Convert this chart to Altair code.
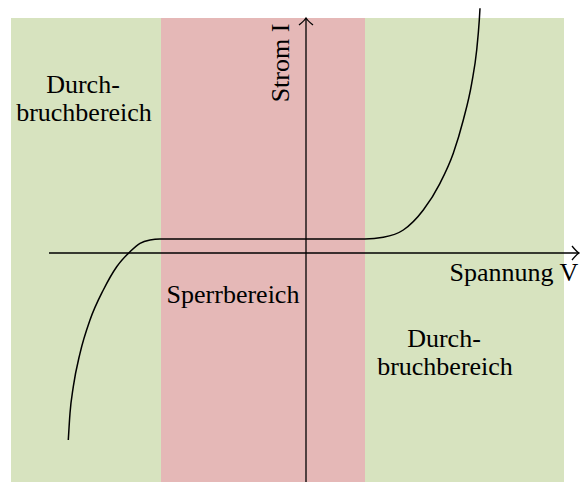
import altair as alt
import pandas as pd

# ---- data (units: voltage V and current I, arbitrary scale, origin at axes crossing) ----
# background regions
region_name = ["Durchbruchbereich links", "Sperrbereich", "Durchbruchbereich rechts"]
region_v0 = [-29.5, -14.5, 5.9]
region_v1 = [-14.5, 5.9, 25.8]
region_i0 = [-22.9, -22.9, -22.9]
region_i1 = [23.5, 23.5, 23.5]
region_color = ["#D7E3BF", "#E5B8B7", "#D7E3BF"]

# characteristic curve
curve_v = [-23.77, -23.6, -23.27, -22.6, -21.6, -20.27, -18.93, -17.6, -16.6, -15.6,
           -14.6, 5.9, 7.73, 9.73, 11.73, 13.4, 14.73, 15.73, 16.57, 17.07, 17.33, 17.4]
curve_i = [-18.7, -16.03, -13.37, -10.03, -6.7, -3.7, -1.37, 0.13, 0.97, 1.3,
           1.4, 1.4, 1.57, 2.3, 4.3, 6.97, 9.97, 13.3, 16.97, 20.3, 23.3, 24.47]

# axes (start / end)
axis_name = ["Spannung", "Strom"]
axis_v0 = [-25.7, 0.0]
axis_v1 = [27.3, 0.0]
axis_i0 = [0.0, -23.0]
axis_i1 = [0.0, 23.5]
axis_arrow_angle = [0, 270]

# labels
label_text = ["Durch-", "bruchbereich", "Sperrbereich", "Durch-", "bruchbereich", "Spannung V"]
label_v = [-22.3, -22.2, -7.3, 13.8, 13.9, 20.8]
label_i = [16.03, 13.23, -5.03, -9.43, -12.2, -2.8]
ylabel_text = ["Strom I"]
ylabel_v = [-1.7]
ylabel_i = [19.0]

# ---- tables ----
regions = pd.DataFrame({"name": region_name, "v0": region_v0, "v1": region_v1,
                        "i0": region_i0, "i1": region_i1, "color": region_color})
curve = pd.DataFrame({"v": curve_v, "i": curve_i})
axes = pd.DataFrame({"name": axis_name, "v0": axis_v0, "v1": axis_v1,
                     "i0": axis_i0, "i1": axis_i1, "angle": axis_arrow_angle})
labels = pd.DataFrame({"text": label_text, "v": label_v, "i": label_i})
ylabels = pd.DataFrame({"text": ylabel_text, "v": ylabel_v, "i": ylabel_i})

xs = alt.Scale(domain=[-29.8, 27.4], nice=False, zero=False)
ys = alt.Scale(domain=[-22.9, 24.5], nice=False, zero=False)

bg = alt.Chart(regions).mark_rect(strokeWidth=0).encode(
    x=alt.X("v0:Q", scale=xs, axis=None), x2="v1:Q",
    y=alt.Y("i0:Q", scale=ys, axis=None), y2="i1:Q",
    color=alt.Color("color:N", scale=None),
)

axis_lines = alt.Chart(axes).mark_rule(color="black", strokeWidth=1.3).encode(
    x=alt.X("v0:Q", scale=xs), x2="v1:Q",
    y=alt.Y("i0:Q", scale=ys), y2="i1:Q",
)

arrows = alt.Chart(axes).mark_point(
    shape="M-1,-1Q-0.35,-0.2,0,0Q-0.35,0.2,-1,1",
    filled=False, color="black", strokeWidth=1.3, opacity=1, size=196,
).encode(
    x=alt.X("v1:Q", scale=xs),
    y=alt.Y("i1:Q", scale=ys),
    angle=alt.Angle("angle:Q", scale=None),
)

line = alt.Chart(curve).mark_line(color="black", strokeWidth=1.5, interpolate="monotone", clip=True).encode(
    x=alt.X("v:Q", scale=xs),
    y=alt.Y("i:Q", scale=ys),
    order="v:Q",
)

text = alt.Chart(labels).mark_text(
    font="Liberation Serif", fontSize=26, align="center", baseline="alphabetic", color="black"
).encode(
    x=alt.X("v:Q", scale=xs), y=alt.Y("i:Q", scale=ys), text="text:N"
)

ytext = alt.Chart(ylabels).mark_text(
    font="Liberation Serif", fontSize=26, align="center", baseline="alphabetic",
    color="black", angle=270
).encode(
    x=alt.X("v:Q", scale=xs), y=alt.Y("i:Q", scale=ys), text="text:N"
)

chart = alt.layer(bg, axis_lines, line, arrows, text, ytext).properties(
    width=572, height=474, padding=0, autosize=alt.AutoSizeParams(type="none"),
    background="white",
).configure_view(stroke=None)

chart.save("out.html", embed_options={"renderer": "svg", "actions": False})
